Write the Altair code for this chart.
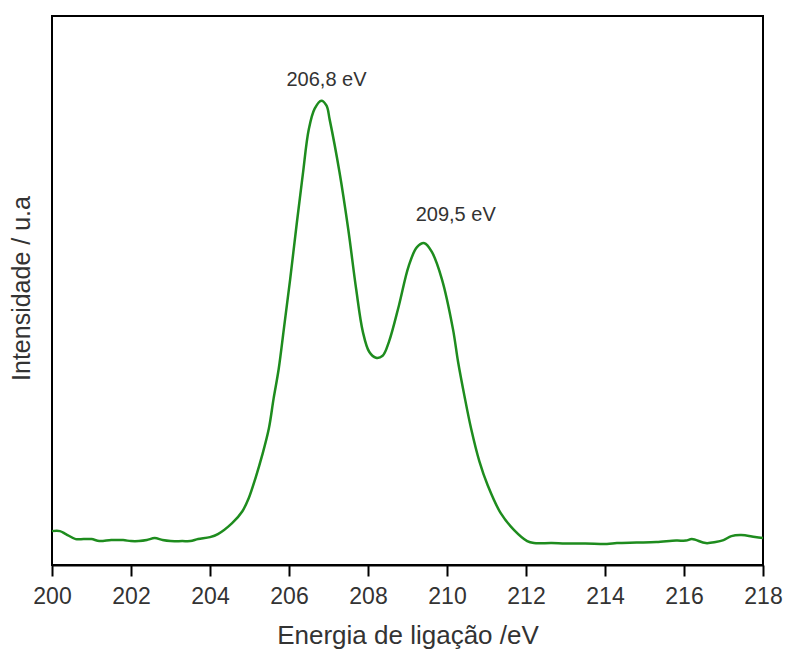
import altair as alt
import pandas as pd

energy = [200.0, 200.2, 200.35, 200.6, 200.8, 201.0, 201.2, 201.5, 201.8, 202.0,
          202.2, 202.4, 202.6, 202.8, 203.0, 203.3, 203.5, 203.7, 204.0, 204.2,
          204.56, 204.82, 204.98, 205.15, 205.32, 205.49, 205.61, 205.74, 205.87, 206.03,
          206.2, 206.35, 206.5, 206.65, 206.82, 206.95, 207.03, 207.28, 207.5, 207.7,
          207.87, 208.03, 208.2, 208.37, 208.53, 208.78, 209.03, 209.24, 209.43, 209.62,
          209.87, 210.15, 210.28, 210.44, 210.61, 210.82, 211.03, 211.36, 211.7, 212.03,
          212.2, 212.65, 213.0, 213.5, 214.05, 214.3, 214.8, 215.3, 215.8, 216.05,
          216.2, 216.55, 216.8, 217.0, 217.2, 217.45, 217.8, 218.0]
intensity = [34, 34, 31, 26, 26, 26, 24, 25, 25, 24,
             24, 25, 27, 25, 24, 24, 24, 26, 28, 31,
             42, 54, 67, 87, 110, 137, 167, 197, 237, 287,
             344, 392, 437, 458, 466, 461, 447, 394, 337, 277,
             234, 214, 208, 210, 224, 260, 300, 319, 323, 314,
             287, 237, 204, 170, 137, 104, 80, 52, 35, 24,
             22, 22, 21.5, 21.5, 21, 22, 22.5, 23, 24.5, 24.5,
             26, 22, 23, 25, 29, 30, 28, 27]

label_text = ["206,8 eV", "209,5 eV"]
label_x = [206.95, 210.22]
label_y = [487, 351]

x_ticks = [200, 202, 204, 206, 208, 210, 212, 214, 216, 218]

df = pd.DataFrame({"energy": energy, "intensity": intensity})
lab = pd.DataFrame({"text": label_text, "x": label_x, "y": label_y})

FONT = "Liberation Sans"

xscale = alt.Scale(domain=[200, 218], nice=False, zero=False)
yscale = alt.Scale(domain=[0, 551], nice=False, zero=False)

line = alt.Chart(df).mark_line(
    color="#1e8c1e", strokeWidth=2.5, interpolate="catmull-rom"
).encode(
    x=alt.X("energy:Q", scale=xscale,
            axis=alt.Axis(values=x_ticks, format="d", title="Energia de ligação /eV",
                          grid=False, domainColor="black", domainWidth=2,
                          tickColor="black", tickWidth=2, tickSize=11,
                          labelFont=FONT, labelFontSize=23, labelColor="#333333",
                          labelPadding=9, labelFlush=False,
                          titleFont=FONT, titleFontSize=26, titleFontWeight="normal",
                          titleColor="#333333", titleY=78, titleBaseline="alphabetic")),
    y=alt.Y("intensity:Q", scale=yscale,
            axis=alt.Axis(title="Intensidade / u.a", labels=False, ticks=False,
                          grid=False, domain=False,
                          titleFont=FONT, titleFontSize=25, titleFontWeight="normal",
                          titleColor="#333333", titleX=-23, titleY=272,
                          titleAngle=270, titleBaseline="alphabetic",
                          titleAlign="center")),
)

text = alt.Chart(lab).mark_text(
    font=FONT, fontSize=20, color="#333333", align="center", baseline="middle"
).encode(
    x=alt.X("x:Q", scale=xscale),
    y=alt.Y("y:Q", scale=yscale),
    text="text:N",
)

chart = alt.layer(line, text).properties(
    width=711, height=549,
    autosize=alt.AutoSizeParams(type="none"),
    padding={"left": 44, "top": 8, "right": 20, "bottom": 84},
    background="white",
).configure_view(
    stroke="black", strokeWidth=2
)

chart.save("out.html", embed_options={"renderer": "svg", "actions": False})
